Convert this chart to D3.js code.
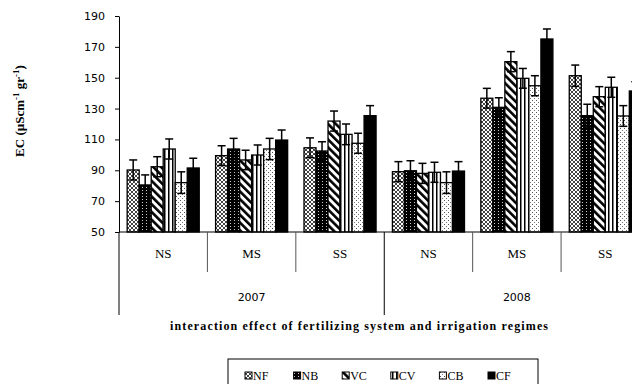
<!DOCTYPE html>
<html>
<head>
<meta charset="utf-8">
<script src="https://cdn.jsdelivr.net/npm/d3@7/dist/d3.min.js"></script>
<style>
  html, body { margin: 0; padding: 0; background: #fff; }
  svg { display: block; }
</style>
</head>
<body>
<svg id="chart" width="632" height="384"></svg>
<script>
// Electrical conductivity by fertilizing system, irrigation regime and year
const years = ["2007", "2008"];
const regimes = ["NS", "MS", "SS"];
const series = ["NF", "NB", "VC", "CV", "CB", "CF"];

// Means per series, in order 2007 NS, MS, SS, 2008 NS, MS, SS
const valuesNF = [90.2, 99.5, 104.6, 89.1, 136.7, 151.3];
const valuesNB = [80.5, 103.8, 102.5, 89.7, 130.8, 125.4];
const valuesVC = [92.3, 96.7, 121.9, 88.0, 160.4, 137.7];
const valuesCV = [103.8, 99.9, 113.3, 88.7, 149.6, 143.8];
const valuesCB = [82.0, 103.8, 107.5, 82.0, 144.8, 125.2];
const valuesCF = [91.5, 109.6, 125.4, 89.5, 175.1, 141.4];

// Standard errors per series, same order
const errNF = [6.5, 6.4, 6.4, 6.5, 6.4, 6.9];
const errNB = [6.5, 6.9, 6.0, 6.5, 6.2, 7.4];
const errVC = [6.5, 6.3, 6.5, 6.5, 6.5, 6.5];
const errCV = [6.5, 6.5, 6.7, 6.5, 6.4, 6.5];
const errCB = [7.0, 6.9, 6.5, 7.0, 6.5, 6.7];
const errCF = [6.3, 6.5, 6.5, 6.1, 6.5, 6.0];

const yTicks = [50, 70, 90, 110, 130, 150, 170, 190];

const valueTable = { NF: valuesNF, NB: valuesNB, VC: valuesVC, CV: valuesCV, CB: valuesCB, CF: valuesCF };
const errTable = { NF: errNF, NB: errNB, VC: errVC, CV: errCV, CB: errCB, CF: errCF };

const groups = [];
years.forEach(yr => regimes.forEach(rg => groups.push(yr + "-" + rg)));

const svg = d3.select("#chart");
const defs = svg.append("defs");

// Fill patterns
function pattern(id, w, h, build, transform) {
  const p = defs.append("pattern").attr("id", id)
    .attr("patternUnits", "userSpaceOnUse").attr("width", w).attr("height", h);
  if (transform) p.attr("patternTransform", transform);
  build(p);
}
pattern("pNF", 4, 4, p => {
  p.append("rect").attr("width", 4).attr("height", 4).attr("fill", "#fff");
  [[0,0],[1,1],[2,2],[3,3],[3,0],[2,1],[1,2],[0,3]].forEach(([x, y]) =>
    p.append("rect").attr("x", x).attr("y", y).attr("width", 1).attr("height", 1).attr("fill", "#444"));
});
pattern("pNB", 4, 3, p => {
  p.append("rect").attr("width", 4).attr("height", 3).attr("fill", "#000");
  p.append("rect").attr("x", 2).attr("y", 1).attr("width", 1).attr("height", 1).attr("fill", "#ccc");
});
pattern("pVC", 5.5, 5.5, p => {
  p.append("rect").attr("width", 5.5).attr("height", 5.5).attr("fill", "#fff");
  p.append("rect").attr("width", 2.6).attr("height", 5.5).attr("fill", "#000");
}, "rotate(-45)");
pattern("pCV", 4, 4, p => {
  p.append("rect").attr("width", 4).attr("height", 4).attr("fill", "#fff");
  p.append("rect").attr("x", 0).attr("width", 1.5).attr("height", 4).attr("fill", "#000");
});
pattern("pCB", 4, 4, p => {
  p.append("rect").attr("width", 4).attr("height", 4).attr("fill", "#fff");
  p.append("rect").attr("x", 0).attr("y", 0).attr("width", 1).attr("height", 1).attr("fill", "#555");
  p.append("rect").attr("x", 2).attr("y", 2).attr("width", 1).attr("height", 1).attr("fill", "#777");
});
const fills = { NF: "url(#pNF)", NB: "url(#pNB)", VC: "url(#pVC)", CV: "url(#pCV)", CB: "url(#pCB)", CF: "#000" };

// Plot geometry
const plotLeft = 119, plotRight = 649.5, plotTop = 16, plotBottom = 232;

const x0 = d3.scaleBand().domain(groups).range([plotLeft, plotRight]).paddingInner(0).paddingOuter(0);
const x1 = d3.scaleBand().domain(series).range([0, x0.bandwidth()]).paddingInner(0).paddingOuter(0.68);
const y = d3.scaleLinear().domain([50, 190]).range([plotBottom, plotTop]);

// Y axis
const yAxis = svg.append("g").attr("transform", `translate(${plotLeft},0)`)
  .call(d3.axisLeft(y).tickValues(yTicks).tickSize(4).tickSizeOuter(0).tickPadding(10));
yAxis.select(".domain").attr("stroke", "#000").attr("stroke-width", 1);
yAxis.selectAll(".tick line").attr("stroke", "#000");
yAxis.selectAll(".tick text")
  .attr("font-family", "'DejaVu Sans', sans-serif").attr("font-size", 11).attr("fill", "#000");

// Bars
const barData = [];
groups.forEach((g, gi) => series.forEach(s => barData.push({ g, s, v: valueTable[s][gi], e: errTable[s][gi] })));

const bars = svg.append("g");
bars.selectAll("rect").data(barData).join("rect")
  .attr("x", d => x0(d.g) + x1(d.s))
  .attr("y", d => y(d.v))
  .attr("width", x1.bandwidth())
  .attr("height", d => y(50) - y(d.v))
  .attr("fill", d => fills[d.s])
  .attr("stroke", "#000").attr("stroke-width", 1.3);

// Error bars
const errG = svg.append("g").attr("stroke", "#000").attr("stroke-width", 1.5);
barData.forEach(d => {
  const cx = x0(d.g) + x1(d.s) + x1.bandwidth() / 2;
  const yHi = y(d.v + d.e), yLo = y(d.v - d.e);
  errG.append("line").attr("x1", cx).attr("x2", cx).attr("y1", yHi).attr("y2", yLo);
  errG.append("line").attr("x1", cx - 4).attr("x2", cx + 4).attr("y1", yHi).attr("y2", yHi);
  errG.append("line").attr("x1", cx - 4).attr("x2", cx + 4).attr("y1", yLo).attr("y2", yLo);
});

// X axis line
svg.append("line").attr("x1", plotLeft).attr("x2", plotRight).attr("y1", plotBottom).attr("y2", plotBottom)
  .attr("stroke", "#000").attr("stroke-width", 1);

// Multi-level category axis
const catG = svg.append("g");
groups.forEach((g, gi) => {
  const gx = x0(g);
  const isYearEdge = gi % regimes.length === 0;
  catG.append("line").attr("x1", gx).attr("x2", gx)
    .attr("y1", plotBottom).attr("y2", isYearEdge ? 315 : 272)
    .attr("stroke", isYearEdge ? "#000" : "#555").attr("stroke-width", 1);
  catG.append("text").attr("x", gx + x0.bandwidth() / 2).attr("y", 258)
    .attr("text-anchor", "middle")
    .attr("font-family", "'Liberation Serif', serif").attr("font-size", 13)
    .text(g.split("-")[1]);
});
catG.append("line").attr("x1", plotRight).attr("x2", plotRight).attr("y1", plotBottom).attr("y2", 315)
  .attr("stroke", "#000");
years.forEach(yr => {
  const first = x0(yr + "-" + regimes[0]);
  const last = x0(yr + "-" + regimes[regimes.length - 1]) + x0.bandwidth();
  catG.append("text").attr("x", (first + last) / 2).attr("y", 301)
    .attr("text-anchor", "middle")
    .attr("font-family", "'DejaVu Sans', sans-serif").attr("font-size", 11)
    .text(yr);
});

// Axis titles
svg.append("text").attr("x", 359).attr("y", 330).attr("text-anchor", "middle")
  .attr("font-family", "'Liberation Serif', serif").attr("font-size", 12).attr("font-weight", "bold")
  .attr("textLength", 378).attr("lengthAdjust", "spacing")
  .text("interaction effect of fertilizing system and irrigation regimes");

const yLab = svg.append("text")
  .attr("transform", "translate(24,111) rotate(-90)")
  .attr("text-anchor", "middle")
  .attr("font-family", "'Liberation Serif', serif").attr("font-size", 13).attr("font-weight", "bold");
yLab.append("tspan").text("EC (µScm");
yLab.append("tspan").attr("font-size", 9).attr("dy", -5).text("-1");
yLab.append("tspan").attr("dy", 5).text(" gr");
yLab.append("tspan").attr("font-size", 9).attr("dy", -5).text("-1");
yLab.append("tspan").attr("dy", 5).text(")");

// Legend
const legend = svg.append("g");
legend.append("rect").attr("x", 228).attr("y", 359).attr("width", 310).attr("height", 40)
  .attr("fill", "#fff").attr("stroke", "#000").attr("stroke-width", 1);
series.forEach((s, i) => {
  const lx = 245 + i * 48.6;
  legend.append("rect").attr("x", lx).attr("y", 372).attr("width", 7).attr("height", 7)
    .attr("fill", fills[s]).attr("stroke", "#000").attr("stroke-width", 1);
  legend.append("text").attr("x", lx + 8).attr("y", 380)
    .attr("font-family", "'Liberation Serif', serif").attr("font-size", 12)
    .text(s);
});
</script>
</body>
</html>
